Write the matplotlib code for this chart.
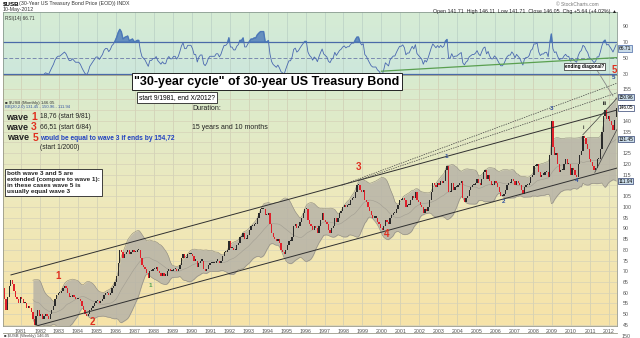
import matplotlib
matplotlib.use("Agg")
import matplotlib.pyplot as plt
from matplotlib.colors import LinearSegmentedColormap
import numpy as np
import pandas as pd

plt.rcParams['font.family'] = ['Liberation Sans', 'DejaVu Sans']

# monthly closes of $USB, Jan 1980 .. May 2012
closes_by_year = {
    1980: [62, 57, 52, 58, 63, 66, 64, 61, 58, 57, 55, 58],
    1981: [57, 55, 55, 53, 54, 53, 51, 48, 45, 49, 52, 49],
    1982: [50, 48, 49, 50, 49, 48, 50, 52, 54, 57, 59, 60],
    1983: [60, 61, 62, 63, 62, 60, 58, 58, 59, 58, 57, 57],
    1984: [57, 56, 54, 52, 50, 49, 50, 52, 53, 54, 55, 56],
    1985: [56, 55, 56, 57, 59, 60, 60, 59, 60, 62, 63, 65],
    1986: [68, 74, 80, 79, 76, 78, 79, 80, 78, 79, 80, 79],
    1987: [79, 80, 80, 76, 73, 72, 71, 69, 67, 70, 70, 71],
    1988: [71, 72, 70, 69, 68, 69, 68, 68, 70, 71, 70, 70],
    1989: [71, 71, 70, 71, 73, 76, 78, 76, 76, 78, 78, 78],
    1990: [77, 75, 75, 72, 74, 75, 75, 71, 70, 71, 73, 74],
    1991: [74, 74, 74, 75, 75, 74, 75, 77, 79, 79, 80, 84],
    1992: [81, 81, 80, 80, 82, 83, 86, 86, 88, 85, 85, 87],
    1993: [89, 91, 91, 92, 92, 95, 97, 99, 99, 99, 96, 96],
    1994: [97, 92, 88, 86, 85, 84, 85, 83, 80, 79, 78, 80],
    1995: [82, 84, 84, 86, 91, 92, 90, 91, 93, 95, 97, 99],
    1996: [99, 94, 92, 91, 89, 91, 90, 88, 91, 94, 97, 94],
    1997: [93, 92, 89, 88, 90, 91, 95, 93, 95, 97, 98, 100],
    1998: [101, 100, 101, 101, 103, 104, 104, 107, 110, 110, 108, 107],
    1999: [108, 103, 102, 100, 98, 96, 95, 95, 95, 93, 92, 90],
    2000: [89, 91, 94, 93, 92, 95, 96, 97, 97, 99, 101, 103],
    2001: [103, 104, 103, 100, 101, 101, 103, 105, 104, 107, 103, 102],
    2002: [101, 100, 97, 99, 98, 100, 103, 107, 111, 110, 109, 111],
    2003: [110, 112, 111, 112, 117, 119, 107, 107, 111, 108, 109, 109],
    2004: [110, 111, 112, 104, 102, 104, 105, 108, 109, 110, 110, 111],
    2005: [113, 111, 110, 113, 116, 117, 113, 115, 112, 110, 110, 112],
    2006: [111, 109, 107, 105, 105, 106, 108, 110, 111, 111, 113, 112],
    2007: [110, 112, 111, 110, 108, 106, 109, 110, 110, 111, 114, 115],
    2008: [119, 119, 120, 116, 114, 115, 115, 116, 116, 114, 124, 140],
    2009: [128, 124, 125, 120, 116, 117, 117, 120, 122, 120, 120, 115],
    2010: [118, 117, 115, 114, 120, 124, 126, 133, 132, 129, 127, 122],
    2011: [121, 119, 117, 118, 122, 122, 127, 135, 142, 145, 141, 142],
    2012: [140, 138, 135.5, 140.41, 146.05],
}
last_bar = {'open': 141.71, 'high': 146.11, 'low': 141.71, 'close': 146.05}

year_ticks = list(range(1981, 2013))
price_ticks = list(range(45, 160, 5))
rsi_ticks = [30, 50, 70, 90]

# hand drawn lines, (year, price) end points
upper_channel = [(1980.47, 68.3), (2012.42, 145.0)]
lower_channel = [(1981.63, 44.1), (2012.42, 118.0)]
dotted_lines = [[(1997.9, 110.0), (2012.42, 157.5)],
                [(1998.8, 112.4), (2012.42, 153.0)]]
diagonal_lines = [[(2010.62, 133.5), (2012.42, 150.5)],
                  [(2011.25, 116.0), (2012.42, 136.0)]]

wave_labels = [
    ("1", 1982.95, 68.0, '#e03020', 7),
    ("2", 1984.75, 46.5, '#e03020', 7),
    ("1", 1987.8, 63.5, '#50a050', 4.5),
    ("3", 1998.8, 118.5, '#e03020', 7),
    ("4", 2000.25, 87.5, '#e03020', 7),
    ("1", 2003.4, 123.5, '#3050a0', 4.5),
    ("2", 2006.45, 102.5, '#3050a0', 4.5),
    ("3", 2008.99, 145.5, '#3050a0', 4.5),
    ("4", 2010.31, 112.0, '#3050a0', 4.5),
    ("i", 2010.62, 137.0, '#202020', 3.5),
    ("iii", 2011.78, 148.0, '#202020', 3.5),
]

# build the monthly frame
vals = []
for y in sorted(closes_by_year):
    vals.extend(closes_by_year[y])
close = pd.Series(vals, dtype=float)
t = 1980 + (np.arange(len(close)) + 0.5) / 12.0
opn = close.shift(1).fillna(close.iloc[0])
opn.iloc[-1] = last_bar['open']

mid = close.rolling(20).mean()
sd = close.rolling(20).std(ddof=0)
bb_up = mid + 2 * sd
bb_lo = mid - 2 * sd

delta = close.diff()
gain = delta.clip(lower=0)
loss = -delta.clip(upper=0)
avg_g = gain.ewm(alpha=1 / 14, min_periods=14, adjust=False).mean()
avg_l = loss.ewm(alpha=1 / 14, min_periods=14, adjust=False).mean()
rsi = 100 - 100 / (1 + avg_g / avg_l)

fig = plt.figure(figsize=(6.4, 3.38), dpi=100)
W, H = 640.0, 338.0
x0, x1 = 3, 617


def axes_px(top, bottom):
    return fig.add_axes([x0 / W, 1 - bottom / H, (x1 - x0) / W, (bottom - top) / H])


def ftext(px, py, s, **kw):
    # text placed in figure pixels, measured from the top-left corner
    return fig.text(px / W, 1 - py / H, s, **kw)


xlim = (1980.05, 2012.42)
grad = np.linspace(0, 1, 64).reshape(-1, 1)

# ---------------- header
ftext(3, 4, "$USB", fontsize=4.5, fontweight='bold', va='center')
ftext(19, 4, "(30-Year US Treasury Bond Price (EOD)) INDX", fontsize=3.8, va='center', color='#333333')
ftext(3, 9.5, "10-May-2012", fontsize=3.8, va='center', color='#333333')
ftext(599, 4, "\u00a9 StockCharts.com", fontsize=3.5, va='center', ha='right', color='#777777')
prev = close.iloc[-2]
chg = last_bar['close'] - prev
ftext(617, 11, f"Open {last_bar['open']:.2f}  High {last_bar['high']:.2f}  Low {last_bar['low']:.2f}  "
      f"Close {last_bar['close']:.2f}  Chg +{chg:.2f} (+{chg / prev * 100:.2f}%) \u25b2",
      fontsize=3.8, va='center', ha='right', color='#222222')

# ---------------- RSI panel
ax_r = axes_px(12, 75)
r_lo, r_hi = 28.75, 107.5
ax_r.set_xlim(*xlim)
ax_r.set_ylim(r_lo, r_hi)
ax_r.imshow(grad, extent=[xlim[0], xlim[1], r_lo, r_hi], aspect='auto',
            cmap=LinearSegmentedColormap.from_list('g', ['#cde7dc', '#d6ecd4']),
            origin='lower', zorder=0)
for yr in year_ticks:
    ax_r.axvline(yr, color='#b9cfc4', lw=0.5, zorder=1)
ax_r.axhline(70, color='#4a6aa8', lw=0.9, zorder=2)
ax_r.axhline(30, color='#4a6aa8', lw=0.9, zorder=2)
ax_r.axhline(50, color='#7a8ab0', lw=0.7, ls=(0, (4, 2)), zorder=2)
ax_r.plot(t, rsi, color='#4a68b0', lw=0.6, zorder=3)
ax_r.fill_between(t, 70, rsi, where=rsi > 70, color='#4a78b8', alpha=0.8,
                  interpolate=True, zorder=3)
# trendline on the RSI lows
ax_r.plot([2000.0, 2012.42], [33.5, 50.5], color='#5aa050', lw=0.9, zorder=3)
ax_r.set_xticks([])
ax_r.yaxis.tick_right()
ax_r.set_yticks(rsi_ticks)
ax_r.tick_params(axis='y', length=0, labelsize=3.8, colors='#555555', pad=4)
for s in ax_r.spines.values():
    s.set_color('#8a9a90')
    s.set_linewidth(0.6)
last_rsi = rsi.iloc[-1]
ax_r.text(1.003, (last_rsi - r_lo) / (r_hi - r_lo) - 0.06, f"{last_rsi:.2f}",
          transform=ax_r.transAxes, fontsize=3.6, va='center', ha='left',
          bbox=dict(boxstyle='square,pad=0.12', fc='#c9dbe8', ec='#4a6aa8', lw=0.5))
ax_r.text(0.003, 0.9, f"RSI(14) {last_rsi:.2f}", transform=ax_r.transAxes,
          fontsize=3.4, color='#333333', va='center')

# ---------------- price panel
ax = axes_px(75, 326)
ylo, yhi = 44.53, 161.3
ax.set_xlim(*xlim)
ax.set_ylim(ylo, yhi)
ax.imshow(grad, extent=[xlim[0], xlim[1], ylo, yhi], aspect='auto',
          cmap=LinearSegmentedColormap.from_list('y', ['#f7e3a8', '#eee9bc', '#d8ebcf']),
          origin='lower', zorder=0)
for yr in year_ticks:
    ax.axvline(yr, color='#cfcdb4', lw=0.5, zorder=1)
for p in price_ticks:
    ax.axhline(p, color='#d6d2b8', lw=0.5, zorder=1)

ax.fill_between(t, bb_lo, bb_up, color='#b7b3a7', alpha=0.85, lw=0, zorder=2)
ax.plot(t, bb_up, color='#8f8b80', lw=0.4, zorder=2)
ax.plot(t, bb_lo, color='#8f8b80', lw=0.4, zorder=2)
ax.plot(t, mid, color='#a29e92', lw=0.4, zorder=2)

up = close >= opn
bw = 0.8 / 12
ax.bar(t[up], (close - opn)[up].abs().clip(lower=0.5), bottom=opn[up], width=bw,
       color='#2a2a2a', zorder=4)
ax.bar(t[~up], (opn - close)[~up], bottom=close[~up], width=bw,
       color='#e0202a', zorder=4)

for seg in (upper_channel, lower_channel):
    ax.plot([seg[0][0], seg[1][0]], [seg[0][1], seg[1][1]], color='#303030', lw=0.7, zorder=5)
for seg in dotted_lines:
    ax.plot([seg[0][0], seg[1][0]], [seg[0][1], seg[1][1]], color='#404040', lw=0.5,
            ls=(0, (2, 1.5)), zorder=5)
for seg in diagonal_lines:
    ax.plot([seg[0][0], seg[1][0]], [seg[0][1], seg[1][1]], color='#404040', lw=0.5, zorder=5)

for txt, xx, yy, col, fs in wave_labels:
    ax.text(xx, yy, txt, color=col, fontsize=fs, fontweight='bold', ha='center', va='center', zorder=6)

# last values on the price scale, nudged apart so the tags do not collide
tags = sorted([(bb_up.iloc[-1], '#c9dbe8'), (last_bar['close'], '#ffffff'),
               (mid.iloc[-1], '#c9dbe8'), (bb_lo.iloc[-1], '#c9dbe8')], reverse=True)
span = yhi - ylo
gap = 6.2 / 251.0
tag_pos = []
for v, fc in tags:
    pos = (v - ylo) / span
    if tag_pos and tag_pos[-1] - pos < gap:
        pos = tag_pos[-1] - gap
    tag_pos.append(pos)
    ax.text(1.003, pos, f"{v:.2f}", transform=ax.transAxes,
            fontsize=3.4, va='center', ha='left', zorder=7,
            bbox=dict(boxstyle='square,pad=0.1', fc=fc, ec='#304070', lw=0.5))

# scale labels hidden behind a value tag are left blank
price_labels = []
for p in price_ticks:
    pp = (p - ylo) / span
    price_labels.append('' if any(abs(pp - q) < 5.5 / 251.0 for q in tag_pos) else str(p))

ax.set_xticks(year_ticks)
ax.set_xticklabels([str(y) for y in year_ticks])
ax.tick_params(axis='x', length=0, labelsize=3.8, colors='#555555', pad=2)
ax.yaxis.tick_right()
ax.set_yticks(price_ticks)
ax.set_yticklabels(price_labels)
ax.tick_params(axis='y', length=0, labelsize=3.8, colors='#555555', pad=4)
for s in ax.spines.values():
    s.set_color('#9a9a88')
    s.set_linewidth(0.6)

ax.text(0.004, 0.888, f"\u25a0 $USB (Monthly) {last_bar['close']:.2f}", transform=ax.transAxes,
        fontsize=3.2, color='#333333', va='center')
ax.text(0.004, 0.872, f"BB(20,2.0) {mid.iloc[-1]:.2f} - {bb_up.iloc[-1]:.2f} - {bb_lo.iloc[-1]:.2f}",
        transform=ax.transAxes, fontsize=3.0, color='#3050a0', va='center')

# ---------------- annotations
box = dict(boxstyle='square,pad=0.3', fc='white', ec='#222222', lw=0.6)
ftext(267, 81.5, "\"30-year cycle\" of 30-year US Treasury Bond", fontsize=9, fontweight='bold',
      ha='center', va='center', bbox=dict(boxstyle='square,pad=0.2', fc='white', ec='#222222', lw=0.7))
ftext(139, 98, "start 9/1981, end X/2012?", fontsize=4.8, va='center', bbox=box)
ftext(192, 108.5, "Duration:", fontsize=5, va='center', color='#222222')
ftext(192, 127.5, "15 years and 10 months", fontsize=5, va='center', color='#222222')

wave_rows = [(117, 6, "1", "18,76 (start 9/81)", '#222222'),
             (127.5, 6, "3", "66,51 (start 6/84)", '#222222'),
             (138, 7.5, "5", "would be equal to wave 3 if ends by 154,72", '#2040c0')]
for py, px, num, txt, col in wave_rows:
    ftext(px, py, "wave", fontsize=6.5, fontweight='bold', va='center', color='#222222')
    ftext(px + 25, py, num, fontsize=7.5, fontweight='bold', va='center', color='#e03020')
    ftext(40, py, txt, fontsize=4.8, va='center', color=col,
          fontweight='bold' if num == "5" else 'normal')
ftext(40, 147.5, "(start 1/2000)", fontsize=4.8, va='center', color='#222222')

ftext(7, 182.5, "both wave 3 and 5 are\nextended (compare to wave 1):\nin these cases wave 5 is\nusually equal wave 3",
      fontsize=4.6, fontweight='bold', va='center', linespacing=1.25, color='#222222',
      bbox=dict(boxstyle='square,pad=0.35', fc='white', ec='#222222', lw=0.6))

ftext(565, 66.5, "ending diagonal?", fontsize=3.3, fontweight='bold', va='center',
      bbox=dict(boxstyle='square,pad=0.15', fc='white', ec='#222222', lw=0.5))
fig.add_artist(plt.Line2D([595 / W, 613 / W], [1 - 67 / H, 1 - 96 / H], color='#888888', lw=0.6))
ftext(614, 70, "5", fontsize=7, fontweight='bold', color='#e03020', ha='center', va='center')
ftext(614, 77.5, "5", fontsize=4.5, fontweight='bold', color='#3050a0', ha='center', va='center')

# top of the next panel
fig.add_artist(plt.Line2D([x0 / W, x1 / W], [1 - 333 / H, 1 - 333 / H], color='#9a9a88', lw=0.6))
ftext(4, 336.5, "\u25a0 $USB (Weekly) 146.05", fontsize=3, va='center', color='#444444')
ftext(622, 336.5, "150", fontsize=3.8, va='center', color='#555555')

fig.savefig("out.png", dpi=100)
